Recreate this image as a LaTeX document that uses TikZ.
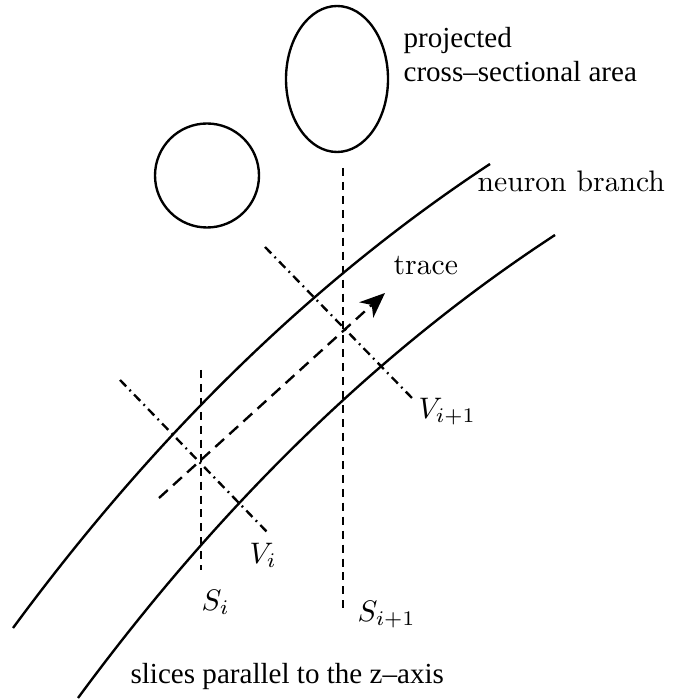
\documentclass[tikz,border=0pt]{standalone}
\usepackage{fontspec}
\newfontfamily\timesfont{Liberation Serif}
\usetikzlibrary{arrows.meta}
\tikzstyle{branch} = [line width=0.8pt]
\tikzstyle{slice} = [line width=0.8pt, dash pattern=on 2.7pt off 2pt]
\tikzstyle{voxel} = [line width=0.8pt, dash pattern=on 3pt off 1.6pt on 0.6pt off 1.6pt]
\tikzstyle{arrow} = [line width=0.8pt, dash pattern=on 4pt off 2.4pt, -{Stealth[length=8.5pt,width=7pt,inset=2.5pt]}]

\begin{document}
\begin{tikzpicture}[x=0.337pt, y=-0.337pt, lbl/.style={inner sep=0pt, anchor=base west, font=\fontsize{10}{12}\selectfont}, tlbl/.style={lbl, font=\timesfont\fontsize{9.8}{12}\selectfont}]
    \useasboundingbox (0,0) rectangle (673,700);
    % projected cross sections
    \draw[branch] (337,79) ellipse [x radius=51, y radius=73];
    \draw[branch] (207,175.5) circle [radius=52];
    \node[tlbl] (proj) at (403,48) {projected};
    \node[tlbl] (area) at (403,82) {cross\textendash sectional area};
    % neuron branch
    \coordinate (up0) at (13,628);
    \coordinate (up1) at (490,164);
    \coordinate (lo0) at (78,698);
    \coordinate (lo1) at (555,235);
    \draw[branch] (up0) .. controls (155,435) and (314,280) .. (up1);
    \draw[branch] (lo0) .. controls (220,505) and (379,350) .. (lo1);
    \node[lbl] (nb) at (477,192) {neuron branch};
    % slices
    \coordinate (si0) at (201,370);
    \coordinate (si1) at (201,570);
    \coordinate (sj0) at (343,168);
    \coordinate (sj1) at (343,613);
    \draw[slice] (si0) -- (si1);
    \draw[slice] (sj0) -- (sj1);
    \node[lbl] (si) at (201,610) {$S_i$};
    \node[lbl] (sj) at (357,621) {$S_{i+1}$};
    % orthogonal planes
    \coordinate (vi0) at (120,380);
    \coordinate (vi1) at (268,533);
    \coordinate (vj0) at (265,247);
    \coordinate (vj1) at (412,398);
    \draw[voxel] (vi0) -- (vi1);
    \draw[voxel] (vj0) -- (vj1);
    \node[lbl] (vi) at (249,563) {$V_i$};
    \node[lbl] (vj) at (418,418) {$V_{i+1}$};
    % trace
    \coordinate (tr0) at (159,498);
    \coordinate (tr1) at (385,293);
    \draw[arrow] (tr0) -- (tr1);
    \node[lbl] (tr) at (393,275) {trace};
    \node[tlbl] (sl) at (130,683) {slices parallel to the z\textendash axis};
\end{tikzpicture}
\end{document}
